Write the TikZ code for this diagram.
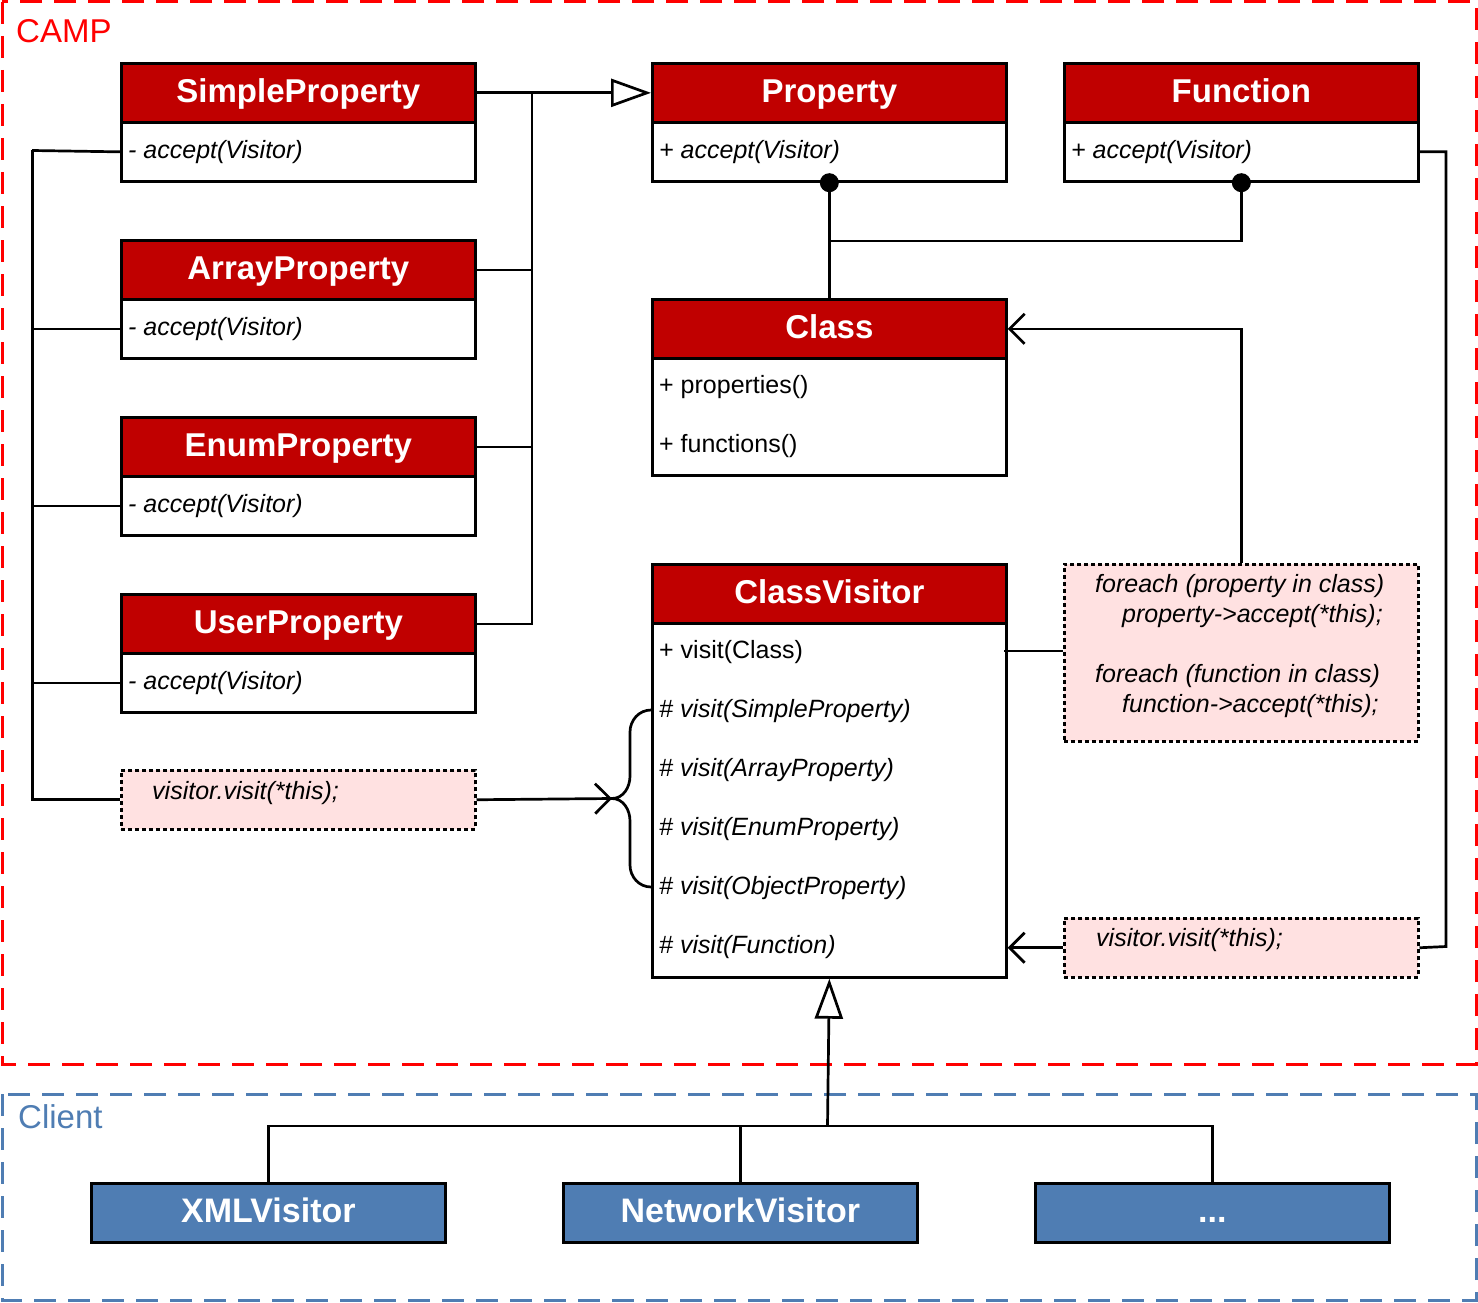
\documentclass[tikz,border=0pt]{standalone}
\usepackage{fontspec}
\setmainfont{Liberation Sans}
\usetikzlibrary{arrows.meta,calc}
\definecolor{hred}{HTML}{C00000}
\definecolor{cblue}{HTML}{4F7DB3}
\definecolor{npink}{HTML}{FFE1E1}
\begin{document}
\begin{tikzpicture}[x=1pt,y=-1pt,
 hdr/.style={draw, fill=hred, text=white, line width=2.7pt, font=\fontsize{33}{33}\selectfont\bfseries, minimum width=354pt, minimum height=59pt, inner sep=0pt, text height=19pt, text depth=0pt, anchor=north west},
 bodybox/.style={draw, fill=white, line width=2.7pt, minimum width=354pt, inner sep=0pt, anchor=north west},
 row/.style={anchor=west, inner sep=0pt, yshift=-1.5pt, font=\fontsize{25}{25}\selectfont},
 irow/.style={anchor=west, inner sep=0pt, yshift=-1.5pt, font=\fontsize{25}{25}\selectfont\itshape},
 notebox/.style={draw, fill=npink, line width=2.5pt, dash pattern=on 4pt off 3pt, minimum width=354pt, inner sep=0pt, anchor=north west},
 cbox/.style={draw, fill=cblue, text=white, line width=2.7pt, font=\fontsize{34}{34}\selectfont\bfseries, minimum width=354pt, minimum height=59pt, inner sep=0pt, text height=20pt, text depth=0pt, anchor=north west},
 conn/.style={line width=2.7pt},
 inh/.style={conn, -{Triangle[open, length=40pt, width=28pt, line width=2.7pt]}},
 nav/.style={conn, -{Straight Barb[length=15pt, width=30pt, line width=2.7pt]}},
 frame/.style={line width=3pt, dash pattern=on 22pt off 12pt},
]
\useasboundingbox (0,0) rectangle (1478,1303);
% frames
\draw[frame, red] (2,2) rectangle (1476,1064);
\draw[frame, cblue] (2,1094) rectangle (1476,1300);
\node[text=red, anchor=west, inner sep=0pt, font=\fontsize{33}{33}\selectfont] (camp) at (16,31) {CAMP};
\node[text=cblue, anchor=west, inner sep=0pt, font=\fontsize{33}{33}\selectfont] (client) at (18,1117) {Client};

% left property classes
\node[hdr] (sp) at (120,62) {SimpleProperty};
\node[bodybox, minimum height=59pt] (spb) at (120,121) {};
\node[irow] (spt) at (128,150.5) {- accept(Visitor)};
\node[hdr] (ap) at (120,239) {ArrayProperty};
\node[bodybox, minimum height=59pt] (apb) at (120,298) {};
\node[irow] (apt) at (128,327.5) {- accept(Visitor)};
\node[hdr] (ep) at (120,416) {EnumProperty};
\node[bodybox, minimum height=59pt] (epb) at (120,475) {};
\node[irow] (ept) at (128,504.5) {- accept(Visitor)};
\node[hdr] (up) at (120,593) {UserProperty};
\node[bodybox, minimum height=59pt] (upb) at (120,652) {};
\node[irow] (upt) at (128,681.5) {- accept(Visitor)};
\node[notebox, minimum height=59pt] (nl) at (120,769) {};
\node[irow] (nlt) at (152,792) {visitor.visit(*this);};

% Property, Function
\node[hdr] (prop) at (651,62) {Property};
\node[bodybox, minimum height=59pt] (propb) at (651,121) {};
\node[irow] (propt) at (659,150.5) {+ accept(Visitor)};
\node[hdr] (fun) at (1063,62) {Function};
\node[bodybox, minimum height=59pt] (funb) at (1063,121) {};
\node[irow] (funt) at (1071,150.5) {+ accept(Visitor)};

% Class
\node[hdr] (cls) at (651,298) {Class};
\node[bodybox, minimum height=117pt] (clsb) at (651,357) {};
\node[row] (clsr1) at (659,386) {+ properties()};
\node[row] (clsr2) at (659,445) {+ functions()};

% ClassVisitor
\node[hdr] (cv) at (651,563) {ClassVisitor};
\node[bodybox, minimum height=354pt] (cvb) at (651,622) {};
\node[row] (cvr1) at (659,651) {+ visit(Class)};
\node[irow] (cvr2) at (659,710) {\# visit(SimpleProperty)};
\node[irow] (cvr3) at (659,769) {\# visit(ArrayProperty)};
\node[irow] (cvr4) at (659,828) {\# visit(EnumProperty)};
\node[irow] (cvr5) at (659,887) {\# visit(ObjectProperty)};
\node[irow] (cvr6) at (659,946) {\# visit(Function)};

% right notes
\node[notebox, minimum height=177pt] (nrt) at (1063,563) {};
\node[irow] (n1) at (1095,585) {foreach (property in class)};
\node[irow] (n2) at (1122,615) {property->accept(*this);};
\node[irow] (n3) at (1095,675) {foreach (function in class)};
\node[irow] (n4) at (1122,705) {function->accept(*this);};
\node[notebox, minimum height=59pt] (nrb) at (1063,917) {};
\node[irow] (nrbt) at (1096,939) {visitor.visit(*this);};

% client boxes
\node[cbox] (xml) at (90,1182) {XMLVisitor};
\node[cbox] (nv) at (562,1182) {NetworkVisitor};
\node[cbox] (dots) at (1034,1182) {...};

% generalization of properties
\coordinate (bus) at (532,91.5);
\draw[inh] (sp.east) -- (prop.west);
\draw[conn] (ap.east) -| (bus);
\draw[conn] (ep.east) -| (bus);
\draw[conn] (up.east) -| (bus);

% left bus
\coordinate (lb) at (32,150.5);
\draw[conn] (spb.west) -- (lb);
\draw[conn] (apb.west) -| (lb);
\draw[conn] (epb.west) -| (lb);
\draw[conn] (upb.west) -| (lb);
\draw[conn, line width=3pt] (nl.west) -| (lb);

% note -> brace
\coordinate (tip) at (612,798.5);
\coordinate (br1) at (651,710);
\coordinate (br2) at (651,887);
\draw[nav] (nl.east) -- (tip);
\draw[conn] (br1) to[out=180,in=90] (630,732) -- (630,776) to[out=-90,in=0] (tip)
  to[out=0,in=90] (630,821) -- (630,865) to[out=-90,in=180] (br2);

% property/function to class
\coordinate (pj) at (827.5,241);
\draw[conn] (propb.south) -- (cls.north);
\draw[conn] (funb.south) |- (pj);
\fill (propb.south) circle (9.5pt);
\fill (funb.south) circle (9.5pt);

% note -> class
\draw[nav] (nrt.north) |- (cls.east);
\draw[conn] (1004,651) -- (nrt.west |- 0,651);

% function -> bottom note
\coordinate (fr) at (1446,946.5);
\draw[conn] (funb.east) -| (fr) -- (nrb.east);
\draw[nav] (nrb.west) -- (nrb.west -| cvb.east);

% client inheritance
\coordinate (cbar) at (827.5,1126);
\draw[conn] (xml.north) |- (dots.north |- cbar) -- (dots.north);
\draw[conn] (nv.north) -- (nv.north |- cbar);
\draw[inh] (cbar) -- (cvb.south);
\end{tikzpicture}
\end{document}
